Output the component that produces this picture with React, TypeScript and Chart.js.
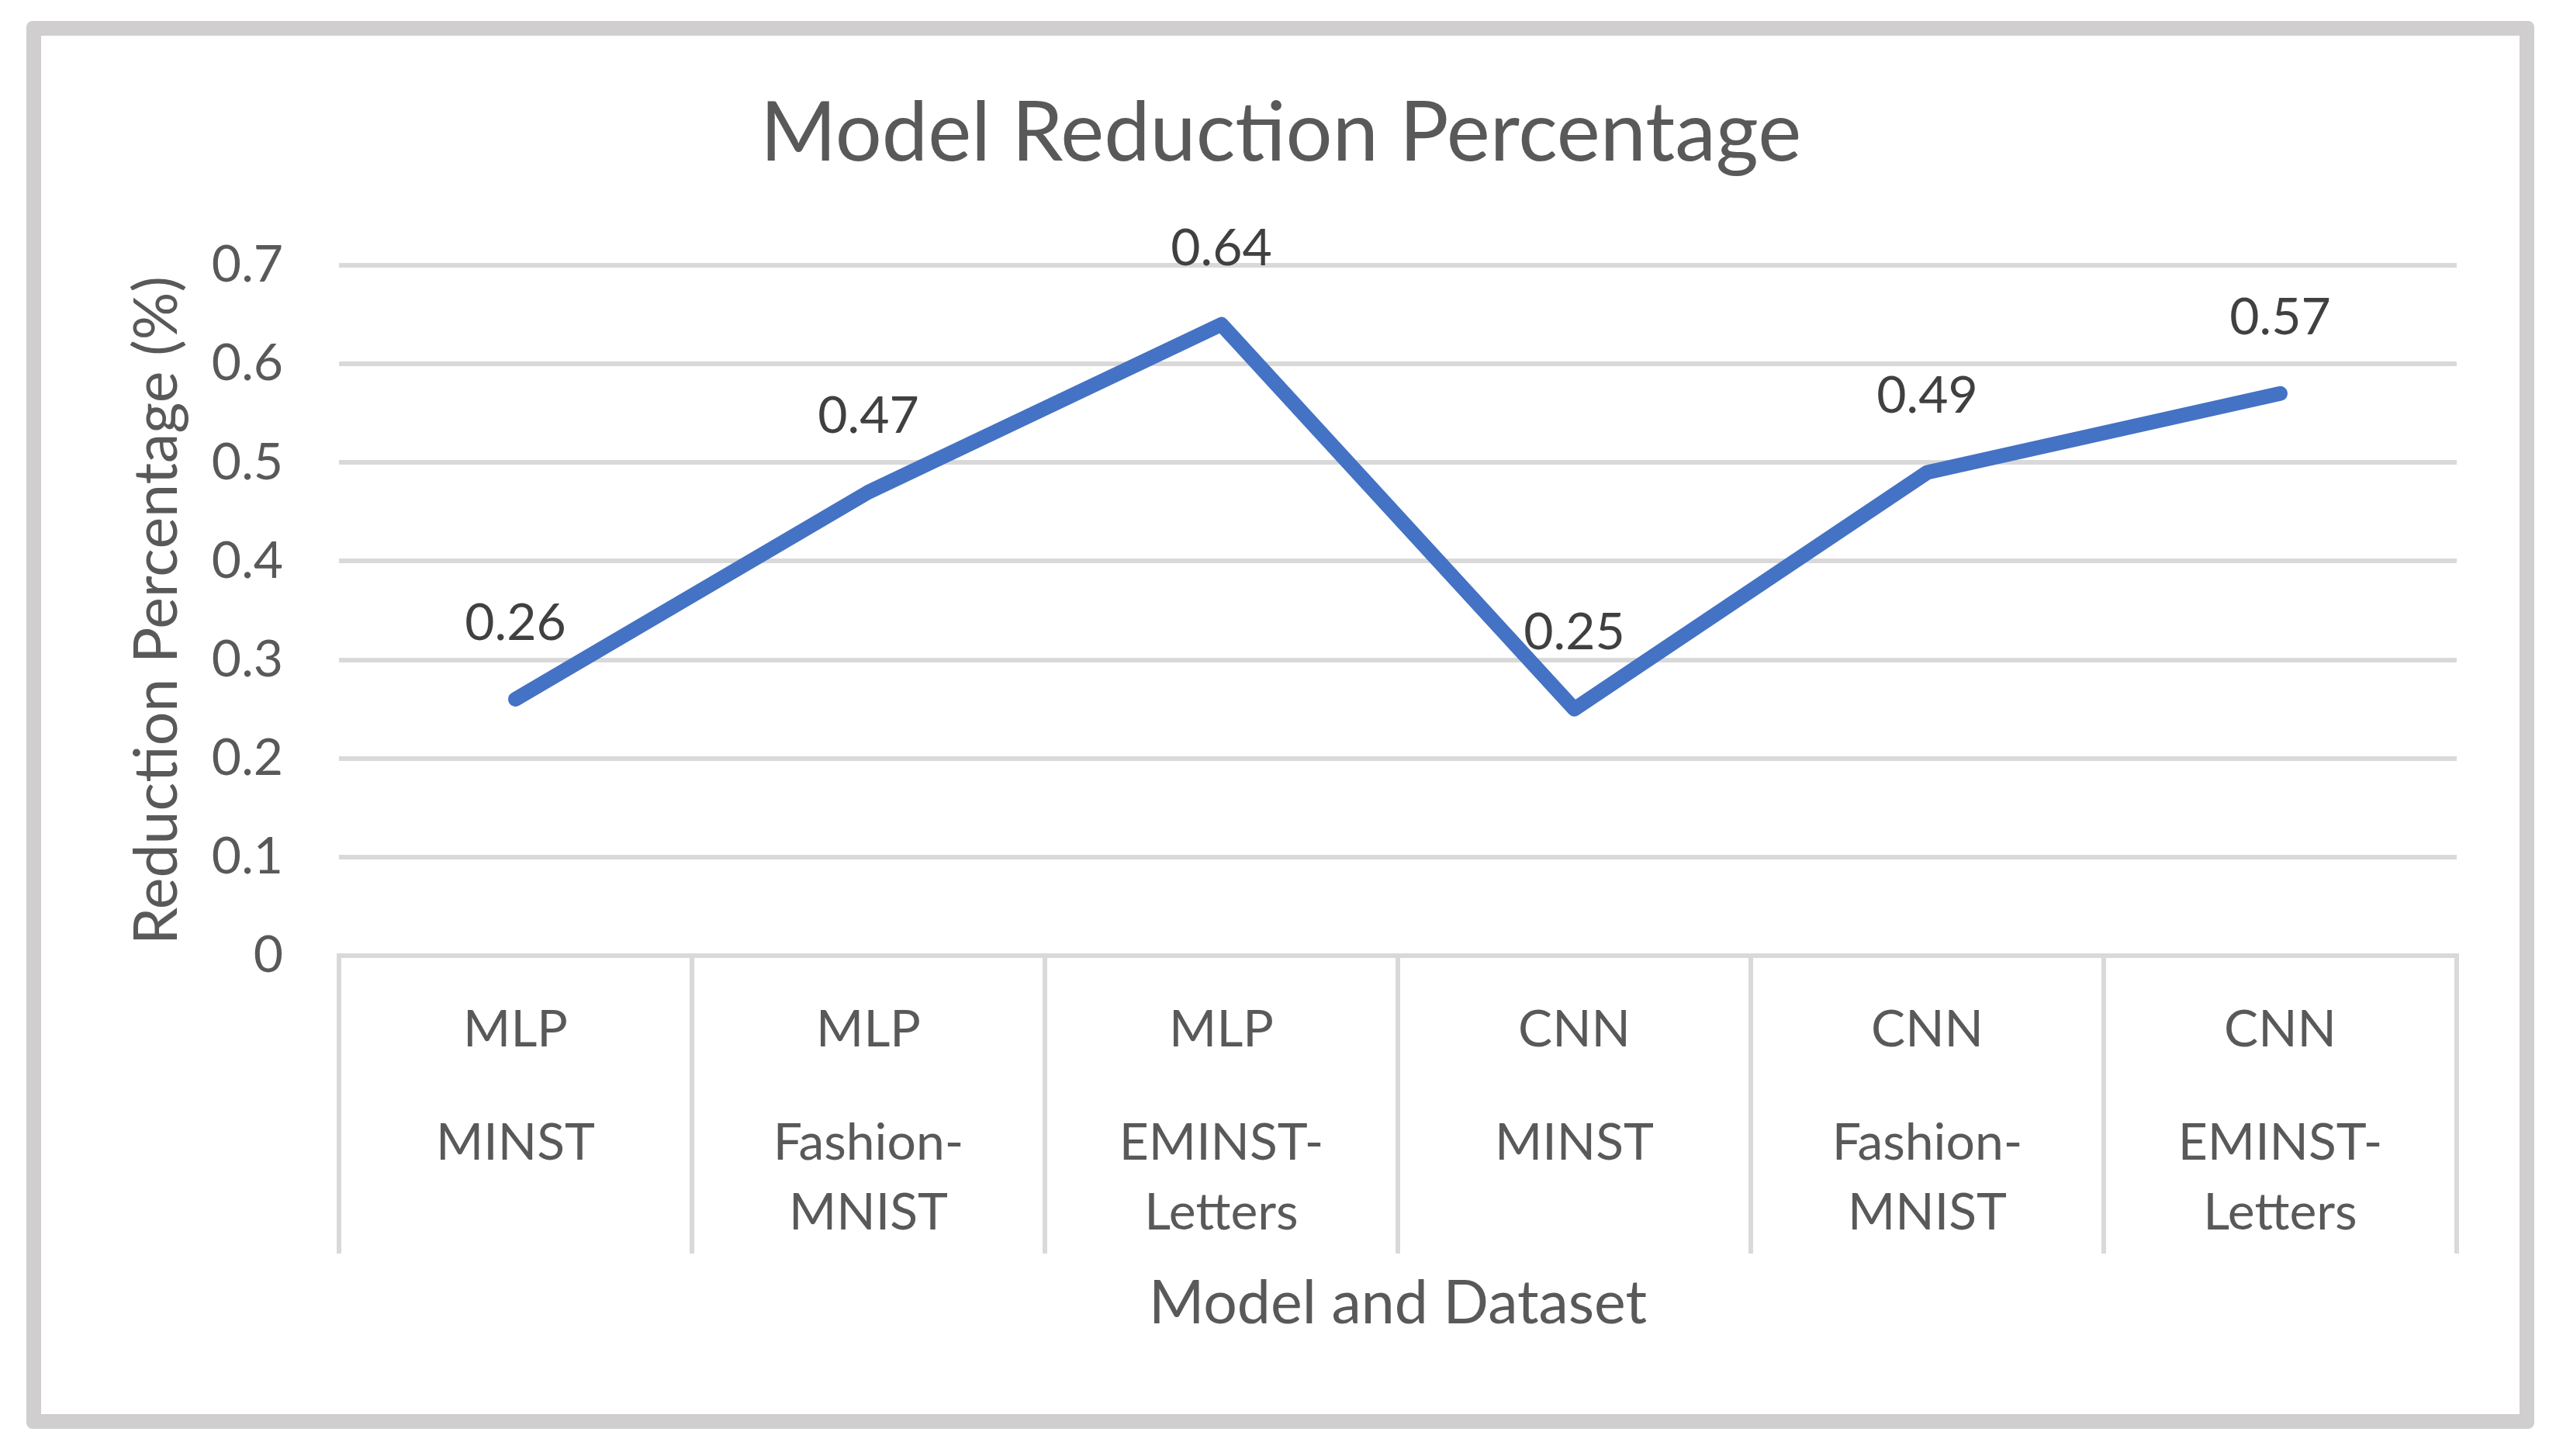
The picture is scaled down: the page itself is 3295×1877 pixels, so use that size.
import React, { useEffect, useRef } from 'react';
import { Chart, registerables } from 'chart.js';

Chart.register(...registerables);

// ---- data ----
const models: string[] = ['MLP', 'MLP', 'MLP', 'CNN', 'CNN', 'CNN'];
const datasetNames: string[][] = [
  ['MINST'],
  ['Fashion-', 'MNIST'],
  ['EMINST-', 'Letters'],
  ['MINST'],
  ['Fashion-', 'MNIST'],
  ['EMINST-', 'Letters'],
];
const reduction: number[] = [0.26, 0.47, 0.64, 0.25, 0.49, 0.57];
const yMin = 0;
const yMax = 0.7;
const yStep = 0.1;
const chartTitle = 'Model Reduction Percentage';
const yTitle = 'Reduction Percentage (%)';
const xTitle = 'Model and Dataset';

// ---- style ----
const W = 3295;
const H = 1877;
const FONT = 'Lato, "Open Sans", "DejaVu Sans", sans-serif';
const TEXT = '#595959';
const LABEL = '#404040';
const GRID = '#D9D9D9';
const LINE = '#4472C4';

const dataLabels = {
  id: 'dataLabels',
  afterDatasetsDraw(chart: any) {
    const { ctx } = chart;
    chart.data.datasets.forEach((ds: any, di: number) => {
      const meta = chart.getDatasetMeta(di);
      meta.data.forEach((pt: any, i: number) => {
        const v = ds.data[i] as number;
        ctx.save();
        ctx.font = `66px ${FONT}`;
        ctx.fillStyle = LABEL;
        ctx.textAlign = 'center';
        ctx.textBaseline = 'middle';
        ctx.fillText(v.toFixed(2), pt.x, pt.y - 98);
        ctx.restore();
      });
    });
  },
};

export default function App() {
  const ref = useRef<HTMLCanvasElement | null>(null);

  useEffect(() => {
    if (!ref.current) return;
    const chart = new Chart(ref.current, {
      type: 'line',
      data: {
        labels: models,
        datasets: [
          {
            data: reduction,
            xAxisID: 'x',
            yAxisID: 'y',
            borderColor: LINE,
            backgroundColor: LINE,
            borderWidth: 19,
            borderCapStyle: 'round',
            borderJoinStyle: 'round',
            pointRadius: 0,
            pointHoverRadius: 0,
            tension: 0,
            fill: false,
            clip: false as any,
          },
        ],
      },
      options: {
        animation: false,
        responsive: false,
        maintainAspectRatio: false,
        events: [],
        layout: { padding: { left: 135, right: 128, top: 0, bottom: 150 } },
        plugins: {
          legend: { display: false },
          tooltip: { enabled: false },
          title: {
            display: true,
            text: chartTitle,
            color: TEXT,
            font: { family: FONT, size: 106, weight: 'normal', lineHeight: 1.2 },
            padding: { top: 109.4, bottom: 105.4 },
          },
        },
        scales: {
          y: {
            type: 'linear',
            position: 'left',
            min: yMin,
            max: yMax,
            ticks: {
              stepSize: yStep,
              font: { family: FONT, size: 66 },
              color: TEXT,
              padding: 72,
              callback: (v: any) => (Number(v) === 0 ? '0' : Number(v).toFixed(1)),
            },
            grid: { color: GRID, lineWidth: 6, drawTicks: false },
            border: { display: false },
            title: {
              display: true,
              text: yTitle,
              color: TEXT,
              font: { family: FONT, size: 77, lineHeight: 1.2 },
              padding: { top: 21.8, bottom: 0 },
            },
            afterFit: (s: any) => {
              s.width = 437 - 135;
            },
          },
          x: {
            type: 'category',
            position: 'bottom',
            weight: 0,
            labels: models,
            offset: true,
            grid: {
              drawOnChartArea: false,
              drawTicks: true,
              tickLength: 384,
              color: GRID,
              lineWidth: 6,
              offset: true,
            },
            border: { display: true, color: GRID, width: 6 },
            ticks: {
              font: { family: FONT, size: 66, lineHeight: '80px' },
              color: TEXT,
              padding: -328,
              autoSkip: false,
              maxRotation: 0,
              minRotation: 0,
            },
            afterFit: (s: any) => {
              s.height = 136;
            },
          },
          x2: {
            type: 'category',
            position: 'bottom',
            weight: 1,
            labels: datasetNames as any,
            offset: true,
            grid: { display: false, drawTicks: false, drawOnChartArea: false },
            border: { display: false },
            ticks: {
              font: { family: FONT, size: 66, lineHeight: '90px' },
              color: TEXT,
              padding: 61,
              autoSkip: false,
              maxRotation: 0,
              minRotation: 0,
            },
            title: {
              display: true,
              text: xTitle,
              color: TEXT,
              font: { family: FONT, size: 77, lineHeight: 1.2 },
              padding: { top: 28.5, bottom: 0 },
            },
            afterFit: (s: any) => {
              s.height = 359;
            },
          },
        } as any,
      },
      plugins: [dataLabels],
    });
    return () => chart.destroy();
  }, []);

  return (
    <div
      style={{
        position: 'fixed',
        left: 0,
        top: 0,
        width: W,
        height: H,
        background: '#ffffff',
        overflow: 'hidden',
      }}
    >
      <canvas
        ref={ref}
        width={W}
        height={H}
        style={{ position: 'absolute', left: 0, top: 0, width: W, height: H }}
      />
      <div
        style={{
          position: 'absolute',
          left: 34,
          top: 27,
          width: 3267 - 34,
          height: 1842 - 27,
          boxSizing: 'border-box',
          border: '19px solid #D0CECE',
          borderRadius: 8,
          pointerEvents: 'none',
        }}
      />
    </div>
  );
}
